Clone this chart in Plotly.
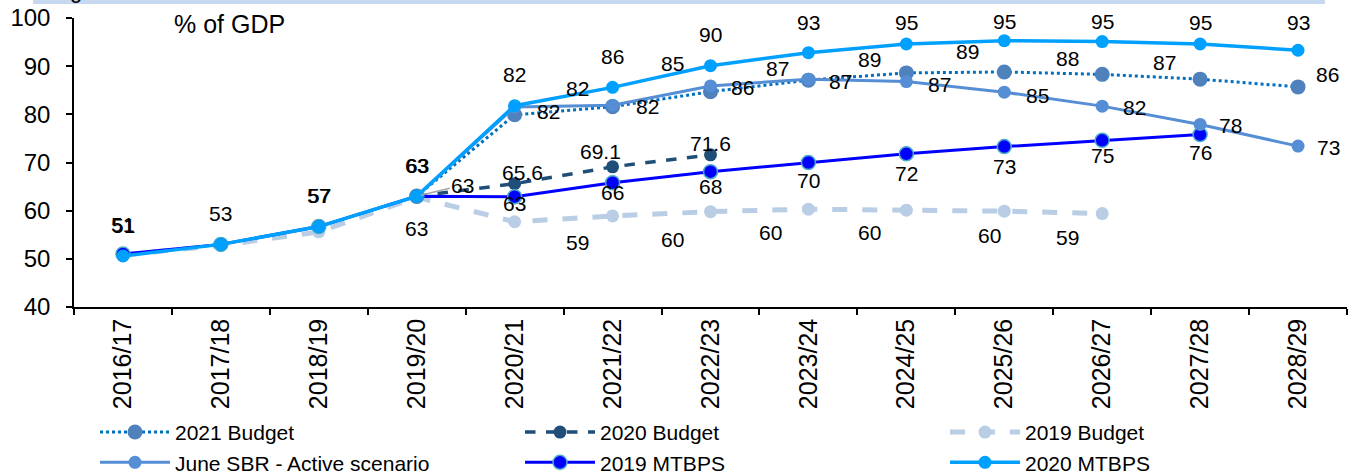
import plotly.graph_objects as go

years = ["2016/17", "2017/18", "2018/19", "2019/20", "2020/21", "2021/22", "2022/23",
         "2023/24", "2024/25", "2025/26", "2026/27", "2027/28", "2028/29"]

# values (% of GDP)
budget_2021 = [None, None, None, 63.0, 79.9, 81.6, 84.7, 87.1, 88.6, 88.8, 88.3, 87.3, 85.7]
budget_2020 = [None, None, None, 63.0, 65.6, 69.1, 71.6, None, None, None, None, None, None]
budget_2019 = [50.8, 52.8, 55.6, 62.8, 57.7, 58.9, 59.8, 60.3, 60.1, 59.9, 59.4, None, None]
sbr_june = [None, None, None, 63.0, 81.5, 81.9, 85.9, 87.3, 86.8, 84.6, 81.7, 77.9, 73.4]
mtbps_2019 = [51.0, 53.0, 56.7, 63.0, 62.9, 65.8, 68.1, 70.0, 71.8, 73.3, 74.6, 75.8, None]
mtbps_2020 = [50.6, 53.0, 56.7, 63.0, 81.8, 85.6, 90.1, 92.8, 94.6, 95.3, 95.1, 94.6, 93.3]

FONT = "Liberation Sans, Arial, sans-serif"
LABEL_SIZE = 21

fig = go.Figure()

series = [
    # name, values, color, width, dash, marker size, marker color, marker line, legend, rank
    ("2019 Budget", budget_2019, "#B9CDE5", 5, "dash", 13, "#B9CDE5", None, "legend3", 1),
    ("2020 Budget", budget_2020, "#1F4E79", 3.5, "dash", 13, "#1F4E79", None, "legend2", 1),
    ("2019 MTBPS", mtbps_2019, "#0000FF", 3, "solid", 14, "#0000FF", "#4BACC6", "legend2", 2),
    ("2021 Budget", budget_2021, "#0070C0", 3, "dot", 15, "#4F81BD", None, "legend", 1),
    ("June SBR - Active scenario", sbr_june, "#558ED5", 3, "solid", 13, "#558ED5", None,
     "legend", 2),
    ("2020 MTBPS", mtbps_2020, "#00A0FF", 3.5, "solid", 13, "#00A0FF", None, "legend3", 2),
]

for name, vals, col, w, dash, ms, mcol, mline, leg, rank in series:
    marker = dict(size=ms, color=mcol)
    if mline:
        marker["line"] = dict(color=mline, width=1.5)
    fig.add_trace(go.Scatter(
        x=years, y=vals, name=name, mode="lines+markers",
        line=dict(color=col, width=w, dash=dash), marker=marker,
        connectgaps=False, legend=leg, legendrank=rank, hoverinfo="skip"))

# label offsets in pixels (dx right, dy down), per series, by year index
mtbps20_offs = {i: (0, -31) for i in range(8)}
mtbps20_offs.update({7: (0, -30), 8: (0, -22), 9: (0, -19), 10: (0, -20), 11: (0, -22),
                     12: (0, -28)})
label_offsets = {
    "2020 MTBPS": mtbps20_offs,
    "2019 MTBPS": {0: (1, -29), 2: (1, -31), 3: (1, -31), 4: (0, 7), 5: (0, 10), 6: (0, 15),
                   7: (0, 18), 8: (0, 20), 9: (0, 20), 10: (0, 15), 11: (0, 18)},
    "June SBR - Active scenario": {4: (34, 4), 5: (35, 1), 6: (32, 2), 7: (32, 2), 8: (33, 3),
                                   9: (33, 3), 10: (32, 1), 11: (30, 1), 12: (30, 1)},
    "2021 Budget": {5: (-35, -18), 6: (-38, -28), 7: (-31, -12), 8: (-37, -13), 9: (-37, -20),
                    10: (-35, -16), 11: (-36, -17), 12: (29, -12)},
    "2020 Budget": {4: (8, -11), 5: (-12, -15), 6: (0, -11)},
    "2019 Budget": {3: (0, 31), 5: (-35, 27), 6: (-38, 28), 7: (-38, 23), 8: (-37, 22),
                    9: (-15, 24), 10: (-35, 24)},
}
label_fmt = {"2020 Budget": "{:.1f}"}

data_by_name = {s[0]: s[1] for s in series}
for name, offs in label_offsets.items():
    vals = data_by_name[name]
    fmt = label_fmt.get(name, "{:.0f}")
    for i, (dx, dy) in offs.items():
        v = vals[i]
        if v is None:
            continue
        fig.add_annotation(x=years[i], y=v, xref="x", yref="y", text=fmt.format(v),
                           showarrow=False, xshift=dx, yshift=-dy,
                           font=dict(family=FONT, size=LABEL_SIZE, color="#000000"))

# 2020 Budget 2019/20 label with leader line
fig.add_annotation(x=years[3], y=budget_2020[3], xref="x", yref="y",
                   text="{:.0f}".format(budget_2020[3]), showarrow=True, arrowhead=0,
                   arrowwidth=1.5, arrowcolor="#A6A6A6", ax=46, ay=-11, standoff=4,
                   font=dict(family=FONT, size=LABEL_SIZE, color="#000000"))

fig.add_annotation(x=(172 - 74) / 1273, y=(307 - 24) / 289, xref="paper", yref="paper",
                   text="% of GDP", showarrow=False, xanchor="left", yanchor="middle",
                   font=dict(family=FONT, size=25, color="#000000"))

# cut-off header band at top
fig.add_shape(type="rect", xref="paper", yref="paper",
              x0=(33 - 74) / 1273, x1=(1325 - 74) / 1273,
              y0=(307 - 4) / 289, y1=(307 + 10) / 289,
              fillcolor="#C6D9F1", line=dict(width=0), layer="below")
fig.add_annotation(x=(76 - 74) / 1273, y=(307 + 9) / 289, xref="paper", yref="paper",
                   text="g", showarrow=False, xanchor="center", yanchor="middle",
                   font=dict(family=FONT, size=22, color="#000000"))

legend_common = dict(orientation="v", xanchor="left", yref="container", y=0.131,
                     yanchor="top", itemwidth=70, font=dict(family=FONT, size=21),
                     bgcolor="rgba(0,0,0,0)", traceorder="normal", tracegroupgap=0)

fig.update_layout(
    width=1349, height=474,
    margin=dict(l=74, r=2, t=18, b=167),
    paper_bgcolor="white", plot_bgcolor="white",
    font=dict(family=FONT, color="#000000"),
    showlegend=True,
    legend=dict(x=(95 - 74) / 1273, **legend_common),
    legend2=dict(x=(520 - 74) / 1273, **legend_common),
    legend3=dict(x=(945 - 74) / 1273, **legend_common),
    xaxis=dict(type="category", range=[-0.5, 12.5], showline=True, linecolor="#000000",
               linewidth=1.5, ticks="outside", tickson="boundaries", ticklen=6,
               tickcolor="#000000", tickwidth=1.5, tickangle=-90, showgrid=False,
               automargin=False,
               tickfont=dict(family=FONT, size=25, color="#000000"), zeroline=False),
    yaxis=dict(range=[40, 100], dtick=10, showline=True, linecolor="#000000", linewidth=1.5,
               ticks="outside", ticklen=6, tickcolor="#000000", tickwidth=1.5,
               ticklabelstandoff=11, automargin=False,
               showgrid=False, zeroline=False,
               tickfont=dict(family=FONT, size=24, color="#000000")),
)

fig.write_html("out.html")
